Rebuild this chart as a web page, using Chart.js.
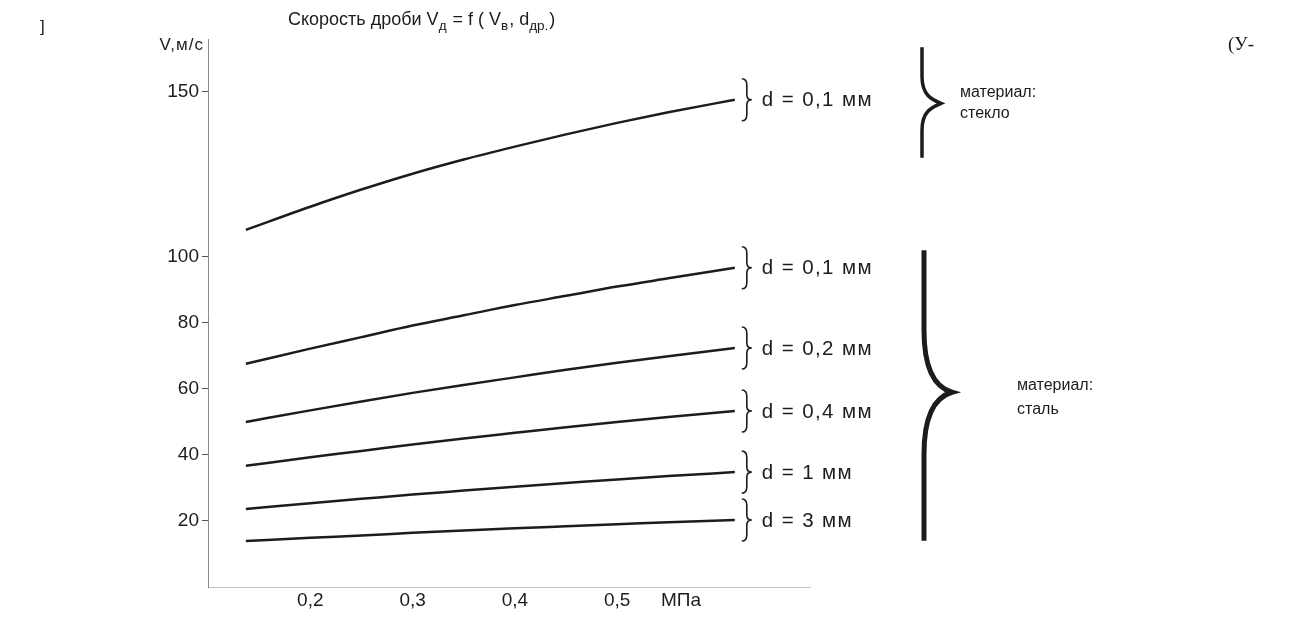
<!DOCTYPE html>
<html>
<head>
<meta charset="utf-8">
<script src="https://cdn.jsdelivr.net/npm/chart.js@4/dist/chart.umd.min.js"></script>
<style>
  html, body { margin: 0; padding: 0; background: #fff; }
  #wrap { width: 1295px; height: 625px; position: relative; }
</style>
</head>
<body>
<div id="wrap"><canvas id="c" width="1295" height="625"></canvas></div>
<script>
// ---- data ----
const pressure = [0.137, 0.2, 0.25, 0.3, 0.35, 0.4, 0.45, 0.5, 0.55, 0.615];            // МПа
const glass01  = [108.2, 115.2, 120.4, 125.2, 129.5, 133.4, 137.1, 140.6, 143.8, 147.6]; // стекло, d = 0,1 мм
const steel01  = [67.6, 72.2, 75.7, 79.2, 82.3, 85.4, 88.2, 91.0, 93.5, 96.7];           // сталь, d = 0,1 мм
const steel02  = [50.0, 53.5, 56.2, 58.8, 61.2, 63.5, 65.8, 67.9, 69.9, 72.4];           // сталь, d = 0,2 мм
const steel04  = [36.7, 39.3, 41.2, 43.2, 45.0, 46.7, 48.4, 50.0, 51.5, 53.3];           // сталь, d = 0,4 мм
const steel1   = [23.6, 25.4, 26.7, 28.0, 29.2, 30.4, 31.5, 32.6, 33.6, 34.8];           // сталь, d = 1 мм
const steel3   = [13.9, 14.9, 15.6, 16.4, 17.1, 17.8, 18.4, 19.0, 19.6, 20.3];           // сталь, d = 3 мм

const seriesLabels = ['d = 0,1 мм', 'd = 0,1 мм', 'd = 0,2 мм', 'd = 0,4 мм', 'd = 1 мм', 'd = 3 мм'];
const seriesValues = [glass01, steel01, steel02, steel04, steel1, steel3];

const xTicks = [0.2, 0.3, 0.4, 0.5];
const xTickLabels = ['0,2', '0,3', '0,4', '0,5'];
const yTicks = [20, 40, 60, 80, 100, 150];
const yTickLabels = ['20', '40', '60', '80', '100', '150'];

const xUnit = 'МПа';
const yUnit = 'V,м/с';
const materialGlass = ['материал:', 'стекло'];
const materialSteel = ['материал:', 'сталь'];
// brace spans (in V units): [top, tip, bottom]
const glassBrace = [163.5, 146.5, 130];
const steelBrace = [102, 59, 14];

const FONT = '"Liberation Sans", Arial, sans-serif';
const INK = '#1c1c1c';

function toPoints(vals) { return vals.map((v, i) => ({ x: pressure[i], y: v })); }

const annotate = {
  id: 'annotate',
  afterDraw(chart) {
    const ctx = chart.ctx;
    const xs = chart.scales.x, ys = chart.scales.y;
    ctx.save();
    ctx.fillStyle = INK;
    ctx.strokeStyle = INK;

    // small braces and curve labels
    chart.data.datasets.forEach((ds, i) => {
      const meta = chart.getDatasetMeta(i);
      const p = meta.data[meta.data.length - 1];
      const x0 = p.x + 7, y = p.y, h = 42;
      const top = y - h / 2, bot = y + h / 2;
      ctx.lineWidth = 1.6;
      ctx.beginPath();
      ctx.moveTo(x0, top);
      ctx.quadraticCurveTo(x0 + 5, top, x0 + 5, top + h * 0.15);
      ctx.lineTo(x0 + 5, y - h * 0.12);
      ctx.quadraticCurveTo(x0 + 5, y, x0 + 10, y);
      ctx.quadraticCurveTo(x0 + 5, y, x0 + 5, y + h * 0.12);
      ctx.lineTo(x0 + 5, bot - h * 0.15);
      ctx.quadraticCurveTo(x0 + 5, bot, x0, bot);
      ctx.stroke();
      ctx.font = '20.5px ' + FONT;
      ctx.letterSpacing = '1.4px';
      ctx.textBaseline = 'middle';
      ctx.textAlign = 'left';
      ctx.fillText(seriesLabels[i], x0 + 20, y + 1);
      ctx.letterSpacing = '0px';
    });

    // big braces
    function bigBrace(spec, bx, tipDx, lw, curveLen) {
      const top = ys.getPixelForValue(spec[0]);
      const tip = ys.getPixelForValue(spec[1]);
      const bot = ys.getPixelForValue(spec[2]);
      ctx.lineWidth = lw;
      ctx.lineCap = 'butt';
      ctx.lineJoin = 'miter';
      ctx.beginPath();
      ctx.moveTo(bx, top);
      ctx.lineTo(bx, tip - curveLen);
      ctx.bezierCurveTo(bx, tip - curveLen * 0.3, bx + tipDx * 0.5, tip - 4, bx + tipDx, tip);
      ctx.bezierCurveTo(bx + tipDx * 0.5, tip + 4, bx, tip + curveLen * 0.3, bx, tip + curveLen);
      ctx.lineTo(bx, bot);
      ctx.stroke();
    }
    bigBrace(glassBrace, 922, 19, 3.5, 27);
    bigBrace(steelBrace, 924, 28, 5, 62);

    ctx.font = '16px ' + FONT;
    ctx.textAlign = 'left';
    ctx.textBaseline = 'middle';
    ctx.fillText(materialGlass[0], 960, 93);
    ctx.fillText(materialGlass[1], 960, 114);
    ctx.fillText(materialSteel[0], 1017, 386);
    ctx.fillText(materialSteel[1], 1017, 410);

    // axis units
    ctx.font = '17px ' + FONT;
    ctx.letterSpacing = '1px';
    ctx.textAlign = 'right';
    ctx.fillText(yUnit, xs.left - 4, 45);
    ctx.letterSpacing = '0px';
    ctx.textAlign = 'left';
    ctx.font = '19px ' + FONT;
    ctx.fillText(xUnit, 661, 601);

    // title with subscripts
    const segs = [
      ['Скорость дроби V', 0], ['д', 1], [' = f ( V', 0], ['в', 1], [', d', 0], ['др.', 1], [')', 0]
    ];
    let tx = 288;
    const ty = 20;
    segs.forEach(([t, sub]) => {
      ctx.font = (sub ? '13.5px ' : '18px ') + FONT;
      ctx.fillText(t, tx, ty + (sub ? 6 : 0));
      tx += ctx.measureText(t).width + (sub ? 1 : 0);
    });

    // stray marks of the scan
    ctx.font = '17px ' + FONT;
    ctx.fillText(']', 40, 27);
    ctx.font = '19px "Liberation Serif", serif';
    ctx.fillText('(У-', 1228, 45);
    ctx.restore();
  }
};

const ds = seriesValues.map(v => ({
  data: toPoints(v),
  borderColor: INK,
  borderWidth: 2.5,
  pointRadius: 0,
  cubicInterpolationMode: 'monotone',
  fill: false
}));

new Chart(document.getElementById('c'), {
  type: 'line',
  data: { datasets: ds },
  plugins: [annotate],
  options: {
    responsive: false,
    devicePixelRatio: 1,
    animation: false,
    layout: { padding: { left: 0, right: 485, top: 39, bottom: 0 } },
    plugins: { legend: { display: false }, tooltip: { enabled: false }, title: { display: false } },
    scales: {
      x: {
        type: 'linear',
        min: 0.1,
        max: 0.6885,
        afterBuildTicks: s => { s.ticks = xTicks.map(v => ({ value: v })); },
        afterFit: s => { s.height = 38; },
        ticks: {
          callback: (v) => xTickLabels[xTicks.indexOf(v)] ?? '',
          font: { size: 19, family: FONT },
          color: INK,
          padding: 2,
          maxRotation: 0
        },
        grid: { display: false, drawTicks: false },
        border: { display: true, color: '#c4c4c4', width: 1, dash: [3, 4] }
      },
      y: {
        type: 'linear',
        min: 0,
        max: 166,
        afterBuildTicks: s => { s.ticks = yTicks.map(v => ({ value: v })); },
        afterFit: s => { s.width = 208; },
        ticks: {
          callback: (v) => yTickLabels[yTicks.indexOf(v)] ?? '',
          font: { size: 19, family: FONT },
          color: INK,
          padding: 3
        },
        grid: { drawOnChartArea: false, drawTicks: true, tickLength: 6, color: '#555', lineWidth: 1 },
        border: { display: true, color: '#8a8a8a', width: 1, dash: [4, 2] }
      }
    }
  }
});
</script>
</body>
</html>
